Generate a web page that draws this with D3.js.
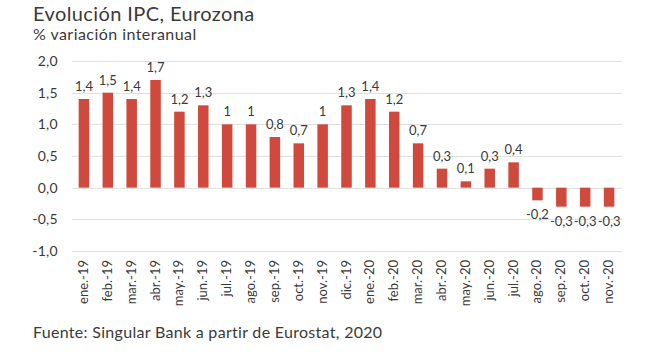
<!DOCTYPE html>
<html><head><meta charset="utf-8">
<script src="https://cdn.jsdelivr.net/npm/d3@7"></script>
<style>
body{margin:0;background:#fff;}
svg{display:block;font-family:Lato, "Open Sans", sans-serif;}
</style></head>
<body><svg id="c" width="650" height="355"></svg>
<script>
const categories = ["ene.-19","feb.-19","mar.-19","abr.-19","may.-19","jun.-19","jul.-19","ago.-19","sep.-19","oct.-19","nov.-19","dic.-19","ene.-20","feb.-20","mar.-20","abr.-20","may.-20","jun.-20","jul.-20","ago.-20","sep.-20","oct.-20","nov.-20"];
const values = [1.4,1.5,1.4,1.7,1.2,1.3,1.0,1.0,0.8,0.7,1.0,1.3,1.4,1.2,0.7,0.3,0.1,0.3,0.4,-0.2,-0.3,-0.3,-0.3];
const yTicks = [2.0,1.5,1.0,0.5,0.0,-0.5,-1.0];
const title = "Evolución IPC, Eurozona";
const subtitle = "% variación interanual";
const source = "Fuente: Singular Bank a partir de Eurostat, 2020";

const svg = d3.select("#c");
const textColor = "#3a3a3a";
const barColor = "#cf4a3d";

const x = d3.scaleBand().domain(categories).range([72, 621]).paddingInner(0.56).paddingOuter(0.28);
const y = d3.scaleLinear().domain([-1, 2]).range([251, 61]);

const fmt = v => Number.isInteger(v) ? String(v) : v.toFixed(1).replace(".", ",");

svg.append("text").attr("x", 33).attr("y", 21).attr("fill", textColor)
  .attr("font-size", 20).attr("letter-spacing", 0.4).text(title);
svg.append("text").attr("x", 33).attr("y", 40).attr("fill", textColor)
  .attr("font-size", 16).attr("letter-spacing", 0.45).text(subtitle);

// grid
svg.append("g").selectAll("line").data(yTicks).join("line")
  .attr("x1", 72).attr("x2", 622)
  .attr("y1", d => Math.round(y(d)) + 0.5).attr("y2", d => Math.round(y(d)) + 0.5)
  .attr("stroke", "#e0e0e0").attr("stroke-width", 1);

// y axis labels
const yAxis = d3.axisLeft(y).tickValues(yTicks).tickSize(0).tickPadding(0)
  .tickFormat(d => d.toFixed(1).replace(".", ","));
const ga = svg.append("g").attr("transform", "translate(58,0)").call(yAxis);
ga.select(".domain").remove();
ga.selectAll("text").attr("font-size", 14).attr("fill", textColor).attr("font-family", "Lato, sans-serif")
  .attr("letter-spacing", 0.3);

// bars
svg.append("g").selectAll("rect").data(values).join("rect")
  .attr("x", (d, i) => x(categories[i]))
  .attr("width", x.bandwidth())
  .attr("y", d => y(Math.max(0, d)))
  .attr("height", d => Math.abs(y(d) - y(0)))
  .attr("fill", barColor);

// value labels
svg.append("g").selectAll("text").data(values).join("text")
  .attr("x", (d, i) => x(categories[i]) + x.bandwidth() / 2)
  .attr("y", d => d >= 0 ? y(d) - 8 : y(d) + 19)
  .attr("text-anchor", "middle").attr("font-size", 13).attr("fill", textColor)
  .text(fmt);

// x axis labels
const xAxis = d3.axisBottom(x).tickSize(0).tickPadding(0);
const gx = svg.append("g").attr("transform", "translate(0,251)").call(xAxis);
gx.select(".domain").remove();
gx.selectAll("text")
  .attr("font-size", 13).attr("fill", textColor).attr("font-family", "Lato, sans-serif")
  .attr("text-anchor", "end").attr("dy", null)
  .attr("transform", "translate(4,9) rotate(-90)")
  .attr("x", 0).attr("y", 0);

svg.append("text").attr("x", 33).attr("y", 338).attr("fill", textColor)
  .attr("font-size", 16).attr("letter-spacing", 0.3).text(source);
</script></body></html>
